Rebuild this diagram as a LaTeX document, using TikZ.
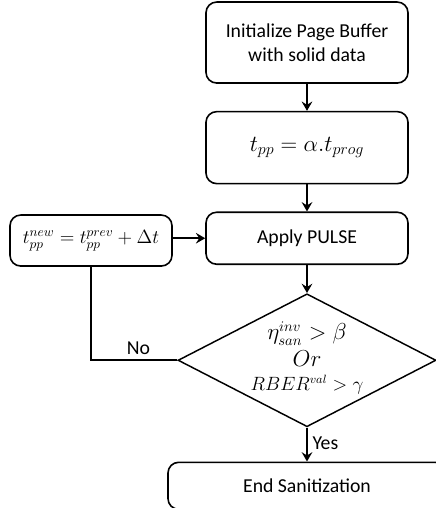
\documentclass[tikz,border=0pt]{standalone}
\usepackage{amsmath,amssymb}
\usepackage{fontspec}
\setmainfont{Carlito}
\usepackage{xcolor}
\usepackage{tikz}
\usetikzlibrary{arrows.meta,positioning,shapes.geometric}

\begin{document}
\begin{tikzpicture}[
    x=1pt, y=1pt,
    font=\fontsize{14.8}{18}\selectfont,
    block/.style={rectangle, rounded corners=8pt, draw, line width=1.2pt, minimum width=151.5pt, align=center, inner sep=2pt},
    formula/.style={font=\fontsize{16.5}{20}\selectfont},
    decision/.style={diamond, draw, line width=1.1pt, aspect=1.94, minimum width=193.5pt, minimum height=99.75pt, inner sep=0pt},
    condition/.style={align=center, inner sep=0pt, font=\fontsize{16}{16.5}\selectfont},
    arrow/.style={-{Stealth[length=7pt,width=8pt,inset=2.5pt]}, line width=1.6pt},
    link/.style={line width=1.6pt}
]
\useasboundingbox (0,0) rectangle (327,-381);

% Initialize
\node[block, minimum height=60.75pt] (init) at (230.25,-31.9) {Initialize Page Buffer\\with solid data};

% Pulse width
\node[block, formula, minimum height=54pt, below=20.25pt of init] (tpp) {$t_{pp}=\alpha.t_{prog}$};

% Apply pulse
\node[block, minimum height=39pt, below=20.25pt of tpp] (apply) {Apply PULSE};

% Update pulse width
\node[block, minimum width=121.5pt, minimum height=38.25pt] (update) at (68.25,-180.4) {$t_{pp}^{new}=t_{pp}^{prev}+\Delta t$};

% Check
\node[decision, below=21pt of apply] (check) {};
\node[condition] (cond) at ([yshift=2pt]check.center) {%
$\eta_{san}^{inv}>\beta$\\[4pt]
$Or$\\[1pt]
{\fontsize{13.5}{15}\selectfont$RBER^{val}>\gamma$}};

% End
\node[block, minimum width=208.5pt, minimum height=35.25pt, below=25.5pt of check] (done) {End Sanitization};

% Arrows
\draw[arrow] (init) -- (tpp);
\draw[arrow] (tpp) -- (apply);
\draw[arrow] (apply) -- (check);
\draw[arrow] (update.east |- apply.west) -- (apply.west);
\draw[link] (check.west) -- node[above, pos=0.45] {No} (update.south |- check.west) -- (update.south);
\draw[arrow] (check.south) -- node[right, pos=0.45] {Yes} (done.north);

\end{tikzpicture}
\end{document}
